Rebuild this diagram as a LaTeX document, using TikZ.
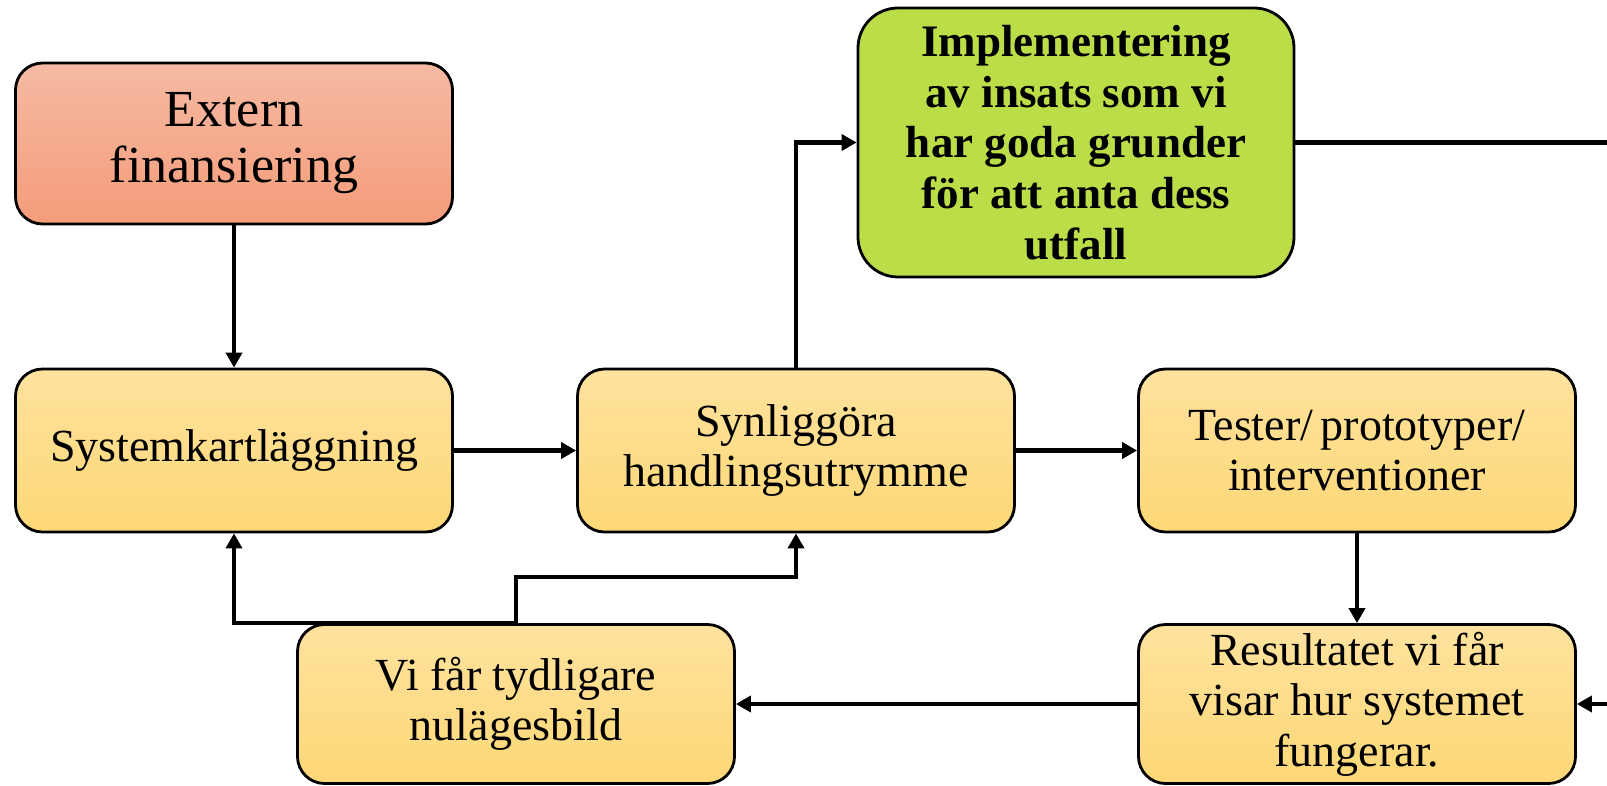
\documentclass[tikz,border=0pt]{standalone}
\usepackage{fontspec}
\setmainfont{Liberation Serif}
\usetikzlibrary{arrows.meta}
\definecolor{ytop}{RGB}{254,226,158}
\definecolor{ybot}{RGB}{253,216,118}
\definecolor{rtop}{RGB}{245,186,163}
\definecolor{rbot}{RGB}{245,156,122}
\definecolor{gfill}{RGB}{187,221,72}
\tikzset{
  box/.style={draw=black, line width=2.8pt, rounded corners=27pt, inner sep=0pt,
    align=center, minimum width=437pt, font=\fontsize{46}{50.5}\selectfont},
  ybox/.style={box, top color=ytop, bottom color=ybot},
  rbox/.style={box, top color=rtop, bottom color=rbot, font=\fontsize{52}{56}\selectfont},
  gbox/.style={box, fill=gfill, rounded corners=40pt, font=\bfseries\fontsize{45}{50.7}\selectfont},
  conn/.style={draw=black, line width=4.2pt},
  arr/.style={conn, -{Triangle[length=15pt,width=16pt]}}
}
\begin{document}
\begin{tikzpicture}[x=1pt,y=-1pt]
\useasboundingbox (0,0) rectangle (1607,785);
\node[rbox, minimum height=161pt] (ext) at (234,143.5) {\raisebox{-5pt}{\parbox{400pt}{\centering Extern\\finansiering}}};
\node[gbox, minimum width=436pt, minimum height=269pt] (impl) at (1076,142.5)
  {Implementering\\av insats som vi\\har goda grunder\\för att anta dess\\utfall};
\node[ybox, minimum height=163pt] (sys) at (234,450.5) {Systemkartläggning};
\node[ybox, minimum height=163pt] (syn) at (796,450.5) {Synliggöra\\handlingsutrymme};
\node[ybox, minimum height=163pt] (test) at (1357,450.5) {Tester/\,prototyper/\\interventioner};
\node[ybox, minimum height=159pt] (vi) at (516,704) {Vi får tydligare\\nulägesbild};
\node[ybox, minimum height=159pt] (res) at (1357,704) {Resultatet vi får\\visar hur systemet\\fungerar.};
\coordinate (rout) at (1608,142.5);
\coordinate (rin) at (1608,704);
\draw[arr] (ext) -- (sys);
\draw[arr] (sys) -- (syn);
\draw[arr] (syn) -- (test);
\draw[arr] (test) -- (res);
\draw[arr] (res) -- (vi);
\draw[arr] (rin) -- (res.east);
\draw[conn] (impl.east) -- (rout);
\draw[arr] (syn.north) |- (impl.west);
\draw[arr] (vi.north) -| (sys.south);
\draw[arr] (vi.north) -- ++(0,-46) -| (syn.south);
\end{tikzpicture}
\end{document}
